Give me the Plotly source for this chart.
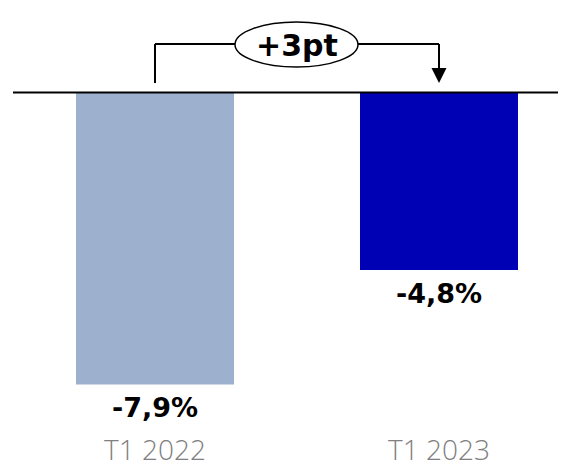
import plotly.graph_objects as go

categories = ["T1 2022", "T1 2023"]
values = [-7.9, -4.8]
bar_colors = ["#9db0cd", "#0000b4"]
delta_label = "+3pt"

W, H = 567, 469
ml, mr, mt, mb = 13, 9, 0, 40
plot_h = H - mt - mb
px_per_unit = 36.96
zero_px = 92.5
y_top = zero_px / px_per_unit
y_bot = -(plot_h - zero_px) / px_per_unit

x_unit = 284.0
x0 = -(155 - ml) / x_unit
x1 = x0 + (W - ml - mr) / x_unit


def ypx(p):
    return (zero_px - p) / px_per_unit


def xpx(p):
    return (p - 155) / x_unit


fig = go.Figure()
fig.add_trace(go.Bar(
    x=[0, 1], y=values, marker=dict(color=bar_colors, line=dict(width=0)),
    width=158 / x_unit, hoverinfo="skip"
))

for i, v in enumerate(values):
    fig.add_annotation(x=i, y=v, yref="y", xref="x", yanchor="top", yshift=-6,
                       text="<b>" + f"{v:.1f}%".replace(".", ",") + "</b>",
                       showarrow=False,
                       font=dict(family="DejaVu Sans", size=27, color="#000000"))

# zero line
fig.add_shape(type="line", xref="paper", yref="y", x0=0, x1=1, y0=0, y1=0,
              line=dict(color="#000000", width=2))

lw = 2
hy = ypx(44)
# bracket
fig.add_shape(type="line", xref="x", yref="y", x0=0, x1=0, y0=ypx(83), y1=hy,
              line=dict(color="#000", width=lw))
fig.add_shape(type="line", xref="x", yref="y", x0=0, x1=xpx(236), y0=hy, y1=hy,
              line=dict(color="#000", width=lw))
fig.add_shape(type="line", xref="x", yref="y", x0=xpx(357), x1=1, y0=hy, y1=hy,
              line=dict(color="#000", width=lw))
fig.add_shape(type="line", xref="x", yref="y", x0=1, x1=1, y0=hy, y1=ypx(70),
              line=dict(color="#000", width=lw))
# arrow head
hw = 7.5 / x_unit
fig.add_shape(type="path", xref="x", yref="y",
              path=f"M {1-hw},{ypx(68)} L {1+hw},{ypx(68)} L 1,{ypx(83)} Z",
              fillcolor="#000", line=dict(color="#000", width=0))
# ellipse
fig.add_shape(type="circle", xref="x", yref="y", x0=xpx(235), x1=xpx(358),
              y0=ypx(67), y1=ypx(22), fillcolor="#ffffff",
              line=dict(color="#000", width=1.5))
fig.add_annotation(x=xpx(297), y=ypx(45), xref="x", yref="y", showarrow=False,
                   text=f"<b>{delta_label}</b>",
                   font=dict(family="DejaVu Sans", size=30, color="#000"))

fig.update_layout(
    width=W, height=H, margin=dict(l=ml, r=mr, t=mt, b=mb),
    paper_bgcolor="#ffffff", plot_bgcolor="#ffffff", showlegend=False,
    xaxis=dict(range=[x0, x1], tickvals=[0, 1], ticktext=categories,
               showgrid=False, zeroline=False, showline=False, ticks="",
               automargin=False, ticklabelstandoff=2,
               tickfont=dict(family="Open Sans", size=28, color="#808080", weight=300)),
    yaxis=dict(range=[y_bot, y_top], visible=False, showgrid=False, zeroline=False,
               automargin=False),
)

fig.write_html("out.html")
